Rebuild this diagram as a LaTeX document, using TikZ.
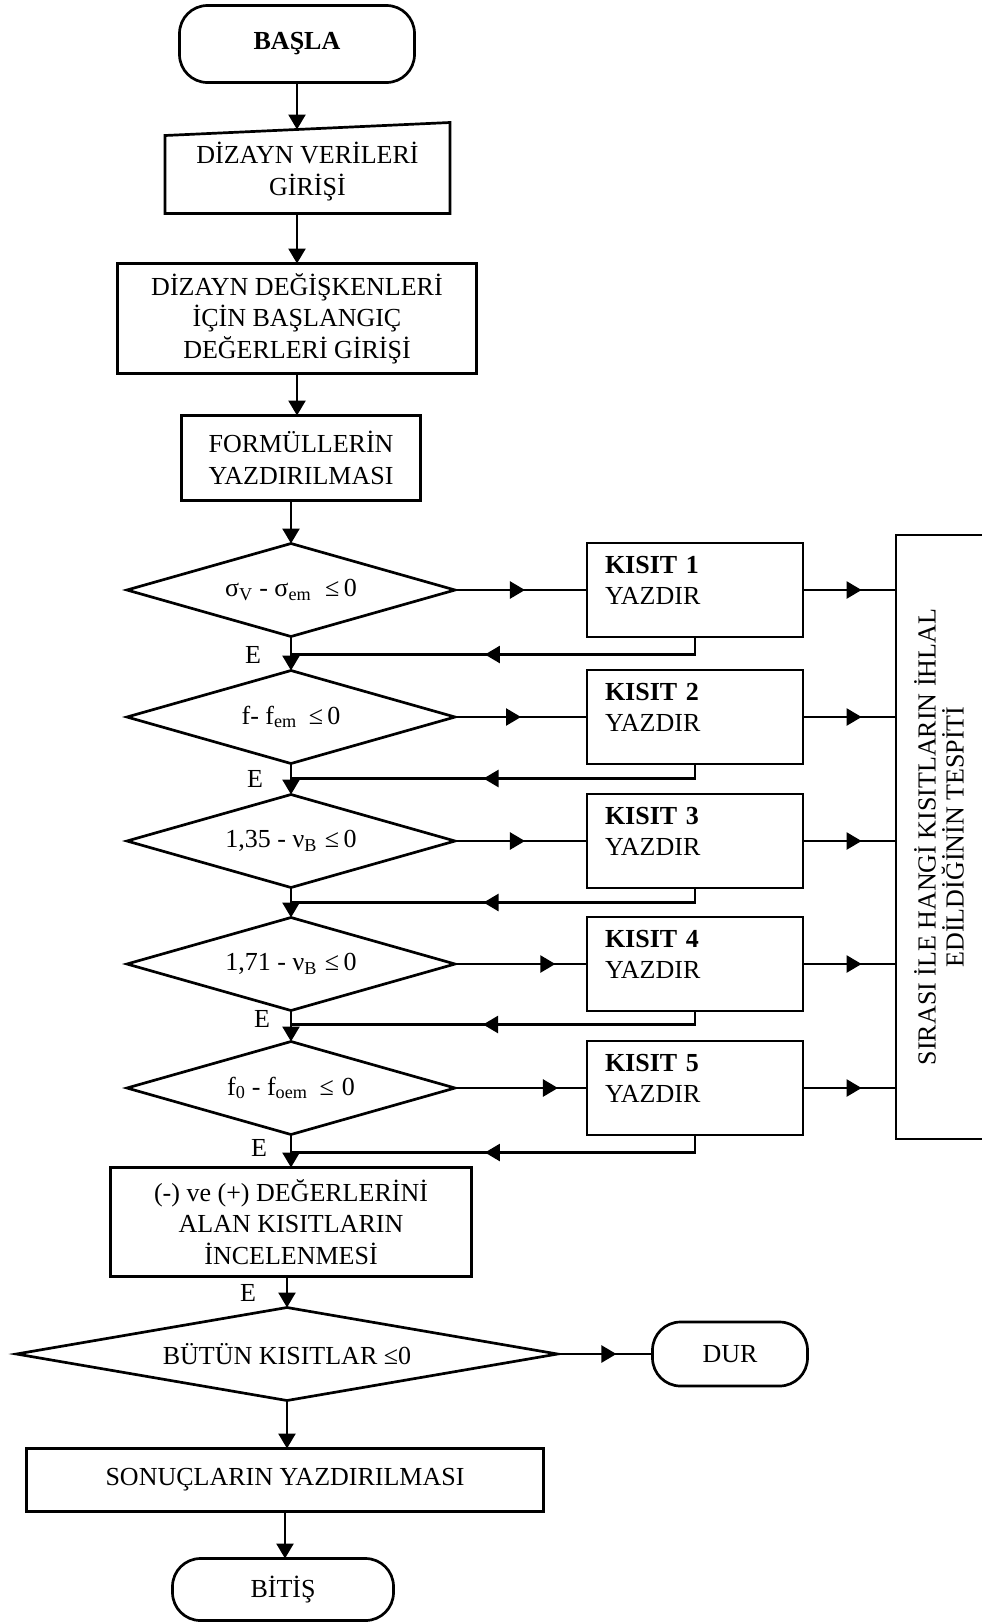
\documentclass[tikz,border=0pt]{standalone}
\usepackage{fontspec}
\setmainfont{Liberation Serif}
\usetikzlibrary{arrows.meta,positioning,shapes.geometric,decorations.markings}
\tikzset{
  txt/.style={font=\fontsize{26}{31.5}\selectfont},
  box/.style={draw, line width=2.7pt, align=center, inner sep=0pt, outer sep=0pt, txt},
  term/.style={box, rounded corners=28pt},
  cond/.style={box, diamond, aspect=3.5, minimum width=328pt, minimum height=93pt},
  kisitbox/.style={box, align=left, text width=180pt, inner xsep=18pt, minimum height=94pt, text height=20pt, text depth=54pt},
  edge/.style={line width=2.5pt, -{Triangle[length=15pt,width=17pt]}},
  midedge/.style={line width=2.5pt, postaction={decorate},
    decoration={markings, mark=at position #1 with {\arrow{Triangle[length=15pt,width=17pt]}}}},
  midedge/.default=0.55,
  elabel/.style={inner sep=0pt, outer sep=0pt, txt}
}
\begin{document}
\begin{tikzpicture}
\useasboundingbox (0,0) rectangle (982pt,-1623pt);
\clip (0,0) rectangle (982pt,-1623pt);
\node[term, minimum width=235pt, minimum height=77pt] (basla) at (297pt,-44pt) {\textbf{BAŞLA}};
\node[txt, align=center, inner sep=0pt, outer sep=0pt, minimum width=285pt, minimum height=84pt, below=47pt of basla, xshift=10.5pt] (veri) {DİZAYN VERİLERİ\\GİRİŞİ};
\node[box, minimum width=359pt, minimum height=110pt, below=50pt of veri, xshift=-10.5pt] (degisken) {DİZAYN DEĞİŞKENLERİ\\İÇİN BAŞLANGIÇ\\DEĞERLERİ GİRİŞİ};
\node[box, minimum width=239pt, minimum height=85pt, below=42pt of degisken, xshift=4pt] (formul) {FORMÜLLERİN\\YAZDIRILMASI};
\node[cond, below=43pt of formul, xshift=-10pt] (d1) {σ\textsubscript{V} - σ\textsubscript{em}\hspace{14pt}≤\,0};
\node[cond, below=34pt of d1] (d2) {f- f\textsubscript{em}\hspace{12pt}≤\,0};
\node[cond, below=31pt of d2] (d3) {1,35 - ν\textsubscript{B}\hspace{8pt}≤\,0};
\node[cond, below=30pt of d3] (d4) {1,71 - ν\textsubscript{B}\hspace{8pt}≤\,0};
\node[cond, below=31pt of d4] (d5) {f\textsubscript{0} - f\textsubscript{oem}\hspace{12pt}≤\hspace{8pt}0};
\node[kisitbox, right=132pt of d1] (k1) {\textbf{KISIT 1}\\YAZDIR};
\node[kisitbox, right=132pt of d2] (k2) {\textbf{KISIT 2}\\YAZDIR};
\node[kisitbox, right=132pt of d3] (k3) {\textbf{KISIT 3}\\YAZDIR};
\node[kisitbox, right=132pt of d4] (k4) {\textbf{KISIT 4}\\YAZDIR};
\node[kisitbox, right=132pt of d5] (k5) {\textbf{KISIT 5}\\YAZDIR};
\node[box, minimum width=120pt, minimum height=604pt, right=93pt of k3, yshift=4pt] (tespit) {};
\node[rotate=90, align=center, inner sep=0pt, font=\fontsize{26}{28}\selectfont] (tespityazi) at ([xshift=-17pt]tespit.center) {SIRASI İLE HANGİ KISITLARIN İHLAL\\EDİLDİĞİNİN TESPİTİ};
\node[box, minimum width=361pt, minimum height=109pt, below=33pt of d5] (inceleme) {(-) ve (+) DEĞERLERİNİ\\ALAN KISITLARIN\\İNCELENMESİ};
\node[cond, aspect=5.8, minimum width=541pt, minimum height=93pt, below=31pt of inceleme, xshift=-4pt] (butun) {BÜTÜN KISITLAR ≤0};
\node[term, minimum width=155pt, minimum height=64pt, right=95pt of butun] (dur) {DUR};
\node[box, minimum width=517pt, minimum height=63pt, below=48pt of butun, xshift=-2pt] (sonuc) {SONUÇLARIN YAZDIRILMASI};
\node[term, minimum width=221pt, minimum height=62pt, below=47pt of sonuc, xshift=-2pt] (bitis) {BİTİŞ};
\coordinate[above=16pt of d2.north] (j1);
\coordinate[above=16pt of d3.north] (j2);
\coordinate[above=15pt of d4.north] (j3);
\coordinate[above=17pt of d5.north] (j4);
\coordinate[above=15pt of inceleme.north] (j5);
\node[elabel, left=30pt of j1] (e1) {E};
\node[elabel, left=28pt of j2] (e2) {E};
\node[elabel, left=21pt of j4, yshift=6pt] (e3) {E};
\node[elabel, left=24pt of j5, yshift=5pt] (e4) {E};
\node[elabel, below left=8pt and 35pt of inceleme.south] (e5) {E};
\draw[line width=2.7pt] (veri.south west) -- ([yshift=-6pt]veri.north west) -- ([yshift=7pt]veri.north east) -- (veri.south east) -- cycle;
\draw[edge] (basla.south) -- (basla.south |- veri.north);
\draw[edge] (degisken.north |- veri.south) -- (degisken.north);
\draw[edge] (degisken.south) -- (degisken.south |- formul.north);
\draw[edge] (formul.south -| d1.north) -- (d1.north);
\draw[edge] (d1.south) -- (d2.north);
\draw[edge] (d2.south) -- (d3.north);
\draw[edge] (d3.south) -- (d4.north);
\draw[edge] (d4.south) -- (d5.north);
\draw[edge] (d5.south) -- (inceleme.north);
\draw[edge] (butun.north |- inceleme.south) -- (butun.north);
\draw[edge] (butun.south) -- (butun.south |- sonuc.north);
\draw[edge] (sonuc.south) -- (sonuc.south |- bitis.north);
\draw[midedge=0.53] (d1.east) -- (k1.west);
\draw[midedge=0.5] (d2.east) -- (k2.west);
\draw[midedge=0.53] (d3.east) -- (k3.west);
\draw[midedge=0.76] (d4.east) -- (k4.west);
\draw[midedge=0.78] (d5.east) -- (k5.west);
\draw[midedge=0.63] (k1.east) -- (k1.east -| tespit.west);
\draw[midedge=0.63] (k2.east) -- (k2.east -| tespit.west);
\draw[midedge=0.63] (k3.east) -- (k3.east -| tespit.west);
\draw[midedge=0.63] (k4.east) -- (k4.east -| tespit.west);
\draw[midedge=0.63] (k5.east) -- (k5.east -| tespit.west);
\draw[midedge=0.54] (k1.south) |- (j1);
\draw[midedge=0.54] (k2.south) |- (j2);
\draw[midedge=0.54] (k3.south) |- (j3);
\draw[midedge=0.54] (k4.south) |- (j4);
\draw[midedge=0.54] (k5.south) |- (j5);
\draw[midedge=0.62] (butun.east) -- (dur.west);
\end{tikzpicture}
\end{document}
